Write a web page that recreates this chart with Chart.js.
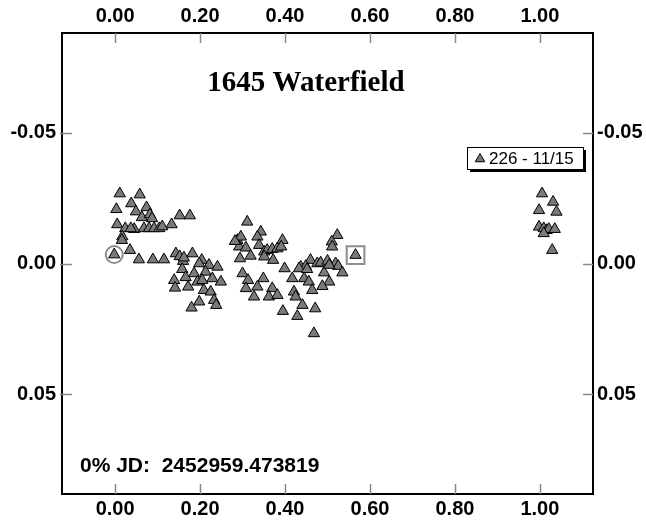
<!DOCTYPE html>
<html>
<head>
<meta charset="utf-8">
<script src="https://cdn.jsdelivr.net/npm/chart.js@4/dist/chart.umd.min.js"></script>
<style>
  html, body { margin: 0; padding: 0; background: #fff; }
  #wrap { width: 646px; height: 525px; }
</style>
</head>
<body>
<div id="wrap"><canvas id="c" width="646" height="525"></canvas></div>
<script>
// ---- data ----
const titleText = "1645 Waterfield";
const legendText = "226 - 11/15";
const jdText = "0% JD:  2452959.473819";

const xTicks = [0.00, 0.20, 0.40, 0.60, 0.80, 1.00];
const yTicks = [-0.05, 0.00, 0.05];

const phase = [
  0.011,0.058,0.003,0.038,0.049,0.074,0.063,0.082,0.087,0.152,0.176,0.133,0.005,0.024,0.045,0.068,0.080,0.092,0.104,0.111,0.017,0.016,-0.002,0.035,0.056,0.089,0.115,0.037,
  0.143,0.152,0.160,0.182,0.204,0.198,0.221,0.241,0.158,0.186,0.213,0.139,0.141,0.172,0.166,0.194,0.205,0.229,0.249,0.209,0.225,0.198,0.233,0.238,0.180,0.162,
  0.311,0.288,0.296,0.343,0.335,0.292,0.308,0.339,0.294,0.319,0.351,0.358,0.370,0.382,0.394,0.391,0.351,0.372,0.399,0.300,0.313,0.349,0.335,0.308,0.327,0.370,0.362,0.382,0.282,
  0.523,0.510,0.511,0.566,0.460,0.437,0.449,0.476,0.484,0.500,0.519,0.525,0.417,0.445,0.456,0.492,0.504,0.488,0.535,0.464,0.421,0.425,0.441,0.471,0.429,0.468,0.395,0.433,0.504,0.452,
  1.005,1.031,0.998,1.039,0.998,1.009,1.016,1.021,1.035,1.009,1.029
];
const mag = [
  -0.0267,-0.0263,-0.0207,-0.0229,-0.0198,-0.0214,-0.0176,-0.0187,-0.0172,-0.0183,-0.0183,-0.0149,-0.0149,-0.0134,-0.0131,-0.0134,-0.0134,-0.0134,-0.0134,-0.0141,-0.0103,-0.0089,-0.0034,-0.0051,-0.0015,-0.0015,-0.0015,-0.0134,
  -0.0038,-0.0027,-0.0009,-0.0038,-0.0013,0.0000,0.0006,0.0013,0.0022,0.0038,0.0032,0.0064,0.0093,0.0089,0.0053,0.0070,0.0064,0.0057,0.0070,0.0102,0.0108,0.0146,0.0140,0.0159,0.0169,-0.0022,
  -0.0159,-0.0089,-0.0102,-0.0121,-0.0102,-0.0064,-0.0060,-0.0070,-0.0019,-0.0029,-0.0045,-0.0051,-0.0055,-0.0057,-0.0089,-0.0064,-0.0026,-0.0013,0.0019,0.0038,0.0064,0.0057,0.0089,0.0095,0.0127,0.0095,0.0127,0.0121,-0.0085,
  -0.0108,-0.0083,-0.0064,-0.0032,-0.0013,0.0013,0.0010,0.0000,-0.0003,-0.0010,0.0000,0.0010,0.0057,0.0057,0.0070,0.0035,0.0070,0.0087,0.0035,0.0102,0.0108,0.0127,0.0159,0.0172,0.0201,0.0267,0.0182,0.0019,0.0006,0.0022,
  -0.0267,-0.0235,-0.0203,-0.0197,-0.0140,-0.0134,-0.0127,-0.0131,-0.0131,-0.0115,-0.0051
];
const circledPoint = [-0.002, -0.0034];
const boxedPoint = [0.566, -0.0032];

// ---- chart ----
const points = phase.map((x, i) => ({ x: x, y: mag[i] }));

const insideTicks = {
  id: 'insideTicks',
  afterDatasetsDraw(chart) {
    const ctx = chart.ctx, a = chart.chartArea;
    const sx = chart.scales.x, sy = chart.scales.y;
    ctx.save();
    ctx.strokeStyle = '#888';
    ctx.lineWidth = 1.5;
    ctx.beginPath();
    xTicks.forEach(v => {
      const px = Math.round(sx.getPixelForValue(v)) + 0.5;
      ctx.moveTo(px, a.bottom); ctx.lineTo(px, a.bottom - 10);
      ctx.moveTo(px, a.top); ctx.lineTo(px, a.top + 10);
    });
    yTicks.forEach(v => {
      const py = Math.round(sy.getPixelForValue(v)) + 0.5;
      ctx.moveTo(a.left - 2, py); ctx.lineTo(a.left + 10, py);
      ctx.moveTo(a.right - 10, py); ctx.lineTo(a.right, py);
    });
    ctx.stroke();
    ctx.restore();
  }
};

const decorations = {
  id: 'decorations',
  afterDraw(chart) {
    const ctx = chart.ctx;
    ctx.save();
    // title
    ctx.fillStyle = '#000';
    ctx.font = 'bold 29px "Liberation Serif", "Times New Roman", serif';
    ctx.textAlign = 'center';
    ctx.textBaseline = 'middle';
    ctx.fillText(titleText, 306, 84);
    // JD text
    ctx.font = 'bold 21px "Liberation Sans", Arial, sans-serif';
    ctx.textAlign = 'left';
    ctx.fillText(jdText, 80, 466);
    // legend box with shadow
    const bx = 467, by = 147, bw = 116, bh = 22;
    ctx.fillStyle = '#000';
    ctx.fillRect(bx + 3, by + 3, bw, bh);
    ctx.fillStyle = '#fff';
    ctx.fillRect(bx, by, bw, bh);
    ctx.strokeStyle = '#000';
    ctx.lineWidth = 1;
    ctx.strokeRect(bx + 0.5, by + 0.5, bw, bh);
    // legend marker
    const cx = 480, cy = by + bh / 2 + 1, r = 5.5;
    ctx.beginPath();
    ctx.moveTo(cx, cy - r);
    ctx.lineTo(cx + r * 0.866, cy + r * 0.5);
    ctx.lineTo(cx - r * 0.866, cy + r * 0.5);
    ctx.closePath();
    ctx.fillStyle = '#7a7a7a';
    ctx.fill();
    ctx.strokeStyle = '#000';
    ctx.stroke();
    ctx.fillStyle = '#000';
    ctx.font = '17px "Liberation Sans", Arial, sans-serif';
    ctx.textBaseline = 'middle';
    ctx.fillText(legendText, 489, by + bh / 2 + 1);
    ctx.restore();
  }
};

const tickFont = { family: '"Liberation Sans", Arial, sans-serif', size: 20, weight: 'bold' };
const fmt2 = v => v.toFixed(2);

new Chart(document.getElementById('c'), {
  type: 'scatter',
  data: {
    datasets: [
      {
        data: points,
        pointStyle: 'triangle',
        pointRadius: 6.5,
        pointBackgroundColor: '#7a7a7a',
        pointBorderColor: '#000',
        pointBorderWidth: 1,
        order: 1
      },
      {
        data: [{ x: circledPoint[0], y: circledPoint[1] }],
        pointStyle: 'circle',
        pointRadius: 8.5,
        pointBackgroundColor: 'rgba(0,0,0,0)',
        pointBorderColor: '#8c8c8c',
        pointBorderWidth: 2,
        order: 0
      },
      {
        data: [{ x: boxedPoint[0], y: boxedPoint[1] }],
        pointStyle: 'rect',
        pointRadius: 12.5,
        pointBackgroundColor: 'rgba(0,0,0,0)',
        pointBorderColor: '#8c8c8c',
        pointBorderWidth: 2,
        order: 0
      }
    ]
  },
  options: {
    responsive: false,
    animation: false,
    events: [],
    layout: { padding: 0 },
    plugins: { legend: { display: false }, tooltip: { enabled: false }, title: { display: false } },
    scales: {
      x: {
        type: 'linear', position: 'bottom', min: -0.125, max: 1.125,
        afterBuildTicks: s => { s.ticks = xTicks.map(v => ({ value: v })); },
        afterFit: s => { s.height = 31; },
        grid: { display: true, drawOnChartArea: false, drawTicks: false },
        border: { display: true, color: '#000', width: 2 },
        ticks: { font: tickFont, color: '#000', padding: 3, callback: fmt2, maxRotation: 0 }
      },
      x2: {
        type: 'linear', position: 'top', min: -0.125, max: 1.125,
        afterBuildTicks: s => { s.ticks = xTicks.map(v => ({ value: v })); },
        afterFit: s => { s.height = 33; },
        grid: { display: true, drawOnChartArea: false, drawTicks: false },
        border: { display: true, color: '#000', width: 2 },
        ticks: { font: tickFont, color: '#000', padding: 5, callback: fmt2, maxRotation: 0 }
      },
      y: {
        type: 'linear', position: 'left', min: -0.088, max: 0.088, reverse: true,
        afterBuildTicks: s => { s.ticks = yTicks.map(v => ({ value: v })); },
        afterFit: s => { s.width = 62; },
        grid: { display: true, drawOnChartArea: false, drawTicks: false },
        border: { display: true, color: '#000', width: 2 },
        ticks: { font: tickFont, color: '#000', padding: 6, callback: fmt2 }
      },
      y2: {
        type: 'linear', position: 'right', min: -0.088, max: 0.088, reverse: true,
        afterBuildTicks: s => { s.ticks = yTicks.map(v => ({ value: v })); },
        afterFit: s => { s.width = 53; },
        grid: { display: true, drawOnChartArea: false, drawTicks: false },
        border: { display: true, color: '#000', width: 2 },
        ticks: { font: tickFont, color: '#000', padding: 4, callback: fmt2 }
      }
    }
  },
  plugins: [insideTicks, decorations]
});
</script>
</body>
</html>
